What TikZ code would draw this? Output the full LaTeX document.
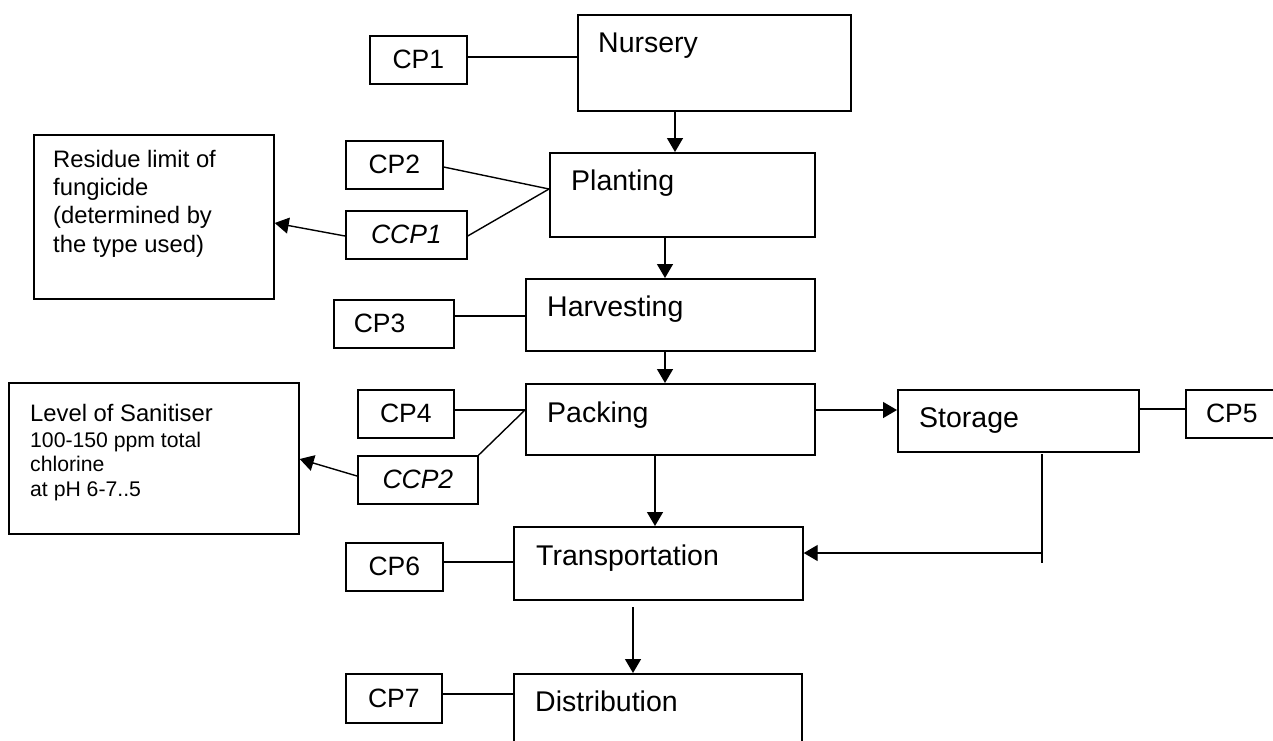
\documentclass[tikz,border=0pt]{standalone}
\usepackage{fontspec}
\setmainfont{Liberation Sans}
\usetikzlibrary{arrows.meta,calc}
\begin{document}
\begin{tikzpicture}[x=1pt,y=-1pt,
  box/.style={draw, line width=1.7pt, rectangle, inner sep=0pt, anchor=north west},
  lbl/.style={anchor=base west, inner sep=0pt, font=\fontsize{28.5}{34}\selectfont},
  cpt/.style={font=\fontsize{26.5}{30}\selectfont},
  smalltxt/.style={anchor=base west, inner sep=0pt, font=\fontsize{23.8}{28}\selectfont},
  tinytxt/.style={anchor=base west, inner sep=0pt, font=\fontsize{21.2}{25}\selectfont},
  link/.style={line width=1.4pt},
  arr/.style={line width=1.4pt, -{Triangle[length=14pt,width=16pt]}},
]
\useasboundingbox (0,0) rectangle (1273,740);

% main stages
\node[box, minimum width=273pt, minimum height=96pt] (nursery) at (577,14) {};
\node[lbl] (nurseryT) at ($(nursery.north west)+(21,38)$) {Nursery};
\node[box, minimum width=265pt, minimum height=84pt] (planting) at (549,152) {};
\node[lbl] (plantingT) at ($(planting.north west)+(22,38)$) {Planting};
\node[box, minimum width=289pt, minimum height=72pt] (harvest) at (525,278) {};
\node[lbl] (harvestT) at ($(harvest.north west)+(22,38)$) {Harvesting};
\node[box, minimum width=289pt, minimum height=71pt] (packing) at (525,383) {};
\node[lbl] (packingT) at ($(packing.north west)+(22,39)$) {Packing};
\node[box, minimum width=241pt, minimum height=62pt] (storage) at (897,389) {};
\node[lbl] (storageT) at ($(storage.north west)+(22,38)$) {Storage};
\node[box, minimum width=289pt, minimum height=73pt] (transport) at (513,526) {};
\node[lbl] (transportT) at ($(transport.north west)+(23,39)$) {Transportation};
\node[box, minimum width=288pt, minimum height=80pt] (distrib) at (513,673) {};
\node[lbl] (distribT) at ($(distrib.north west)+(22,38)$) {Distribution};

% control points
\node[box, cpt, minimum width=97pt, minimum height=48pt] (cp1) at (369,35) {CP1};
\node[box, cpt, minimum width=97pt, minimum height=48pt] (cp2) at (345,140) {CP2};
\node[box, cpt, minimum width=121pt, minimum height=48pt] (ccp1) at (345,210) {\itshape CCP1};
\node[box, cpt, minimum width=120pt, minimum height=48pt] (cp3) at (333,299) {\makebox[80pt][l]{CP3}};
\node[box, cpt, minimum width=96pt, minimum height=48pt] (cp4) at (357,389) {CP4};
\node[box, cpt, minimum width=120pt, minimum height=48pt] (ccp2) at (357,455) {\itshape CCP2};
\node[box, cpt, minimum width=92pt, minimum height=48pt] (cp5) at (1185,389) {CP5};
\node[box, cpt, minimum width=97pt, minimum height=48pt] (cp6) at (345,542) {CP6};
\node[box, cpt, minimum width=96pt, minimum height=49pt] (cp7) at (345,673) {CP7};

% critical limit boxes
\node[box, minimum width=240pt, minimum height=164pt] (residue) at (33,134) {};
\node[smalltxt] (res1) at (53,167) {Residue limit of};
\node[smalltxt] (res2) at (53,195) {fungicide};
\node[smalltxt] (res3) at (53,223) {(determined by};
\node[smalltxt] (res4) at (53,252) {the type used)};

\node[box, minimum width=290pt, minimum height=151pt] (level) at (8,382) {};
\node[smalltxt] (lev1) at (30,421) {Level of Sanitiser};
\node[tinytxt] (lev2) at (30,447) {100-150 ppm total};
\node[tinytxt] (lev3) at (30,471) {chlorine};
\node[tinytxt] (lev4) at (30,496) {at pH 6-7..5};

% connectors
\draw[link] (cp1.east |- 0,57) -- (nursery.west |- 0,57);
\draw[arr] (nursery.south -| 675,0) -- (planting.north -| 675,0);

\coordinate (pjoin) at (planting.west |- 0,189);
\draw[link] (cp2.east |- 0,167) -- (pjoin);
\draw[link] (ccp1.east |- 0,236) -- (pjoin);
\draw[arr] (ccp1.west |- 0,236) -- (residue.east |- 0,223);

\draw[arr] (planting.south -| 665,0) -- (harvest.north -| 665,0);
\draw[link] (cp3.east |- 0,316) -- (harvest.west |- 0,316);
\draw[arr] (harvest.south -| 665,0) -- (packing.north -| 665,0);

\coordinate (kjoin) at (packing.west |- 0,410);
\draw[link] (cp4.east |- 0,410) -- (kjoin);
\draw[link] (ccp2.north east) -- (kjoin);
\draw[arr] (ccp2.west |- 0,476) -- (level.east |- 0,459);

\draw[arr] (packing.east |- 0,410) -- (storage.west |- 0,410);
\draw[link] (storage.east |- 0,409) -- (cp5.west |- 0,409);

\coordinate (stop) at (1042,454);
\coordinate (sbot) at (1042,563);
\draw[link] (stop) -- (sbot);
\draw[arr] (stop |- 0,553) -- (transport.east |- 0,553);

\draw[arr] (packing.south -| 655,0) -- (transport.north -| 655,0);
\draw[link] (cp6.east |- 0,562) -- (transport.west |- 0,562);

\coordinate (tdst) at (633,607);
\draw[arr] (tdst) -- (distrib.north -| tdst);
\draw[link] (cp7.east |- 0,694) -- (distrib.west |- 0,694);
\end{tikzpicture}
\end{document}
